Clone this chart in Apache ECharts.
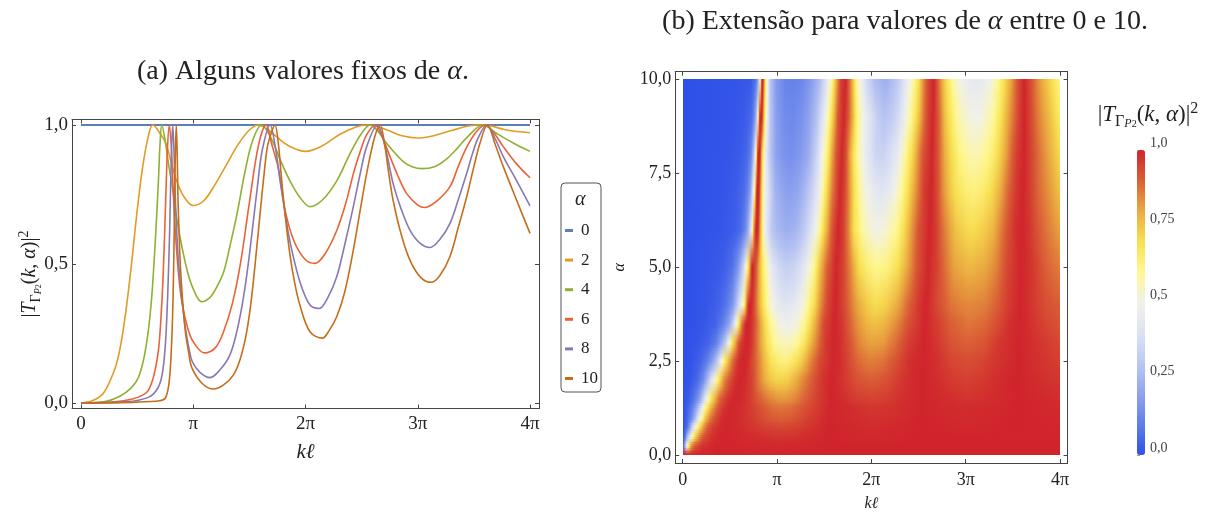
<!DOCTYPE html>
<html>
<head>
<meta charset="utf-8">
<script src="https://cdn.jsdelivr.net/npm/echarts@6/dist/echarts.min.js"></script>
<style>
  html, body { margin: 0; padding: 0; background: #fff; }
  #main { width: 1208px; height: 517px; }
</style>
</head>
<body>
<div id="main"></div>
<script>
// ---- (a) curves |T|^2 for fixed alpha, x given in units of pi ----
const alphaNames = ['0', '2', '4', '6', '8', '10'];
const lineColors = ['#5E81B5', '#E19C24', '#8FB032', '#EB6235', '#8778B3', '#C56E1A'];

const curveA0 = [[0, 1], [4, 1]];
const curveA2 = [[0,0],[0.1,0.008],[0.2,0.035],[0.3,0.12],[0.35,0.2],[0.4,0.33],[0.45,0.5],[0.5,0.69],[0.55,0.85],[0.6,0.96],[0.64,1],[0.72,0.96],[0.76,0.93],[0.8,0.87],[0.86,0.79],[0.92,0.74],[1.0,0.71],[1.1,0.73],[1.2,0.79],[1.3,0.86],[1.4,0.93],[1.5,0.982],[1.58,1],[1.67,0.982],[1.75,0.955],[1.85,0.925],[2.0,0.905],[2.15,0.925],[2.3,0.965],[2.45,0.993],[2.55,1],[2.65,0.993],[2.75,0.978],[2.85,0.962],[3.0,0.953],[3.15,0.962],[3.3,0.98],[3.45,0.996],[3.55,1],[3.65,0.996],[3.75,0.986],[3.85,0.978],[4.0,0.972]];
const curveA4 = [[0,0],[0.2,0.004],[0.35,0.025],[0.45,0.055],[0.51,0.09],[0.56,0.16],[0.6,0.26],[0.63,0.38],[0.65,0.5],[0.67,0.64],[0.69,0.8],[0.704,0.93],[0.72,1],[0.755,0.93],[0.78,0.86],[0.82,0.76],[0.85,0.67],[0.9,0.56],[0.95,0.47],[1.0,0.41],[1.075,0.364],[1.15,0.38],[1.2,0.41],[1.27,0.47],[1.33,0.57],[1.39,0.68],[1.46,0.83],[1.53,0.945],[1.61,1],[1.69,0.955],[1.78,0.87],[1.86,0.8],[1.95,0.74],[2.04,0.706],[2.15,0.73],[2.28,0.8],[2.4,0.9],[2.5,0.97],[2.575,1],[2.65,0.975],[2.72,0.935],[2.87,0.868],[2.95,0.85],[3.035,0.843],[3.15,0.85],[3.25,0.875],[3.35,0.915],[3.45,0.96],[3.58,1],[3.7,0.97],[3.85,0.935],[4.0,0.905]];
const curveA6 = [[0,0],[0.3,0.004],[0.45,0.013],[0.55,0.028],[0.6,0.045],[0.65,0.1],[0.69,0.19],[0.71,0.29],[0.73,0.44],[0.75,0.67],[0.77,0.91],[0.787,1],[0.805,0.92],[0.82,0.78],[0.84,0.62],[0.87,0.46],[0.9,0.36],[0.95,0.27],[1.0,0.22],[1.1,0.18],[1.2,0.2],[1.27,0.256],[1.35,0.36],[1.42,0.5],[1.5,0.72],[1.58,0.925],[1.648,1],[1.703,0.925],[1.76,0.84],[1.82,0.69],[1.9,0.58],[2.0,0.515],[2.085,0.502],[2.18,0.54],[2.28,0.622],[2.36,0.72],[2.43,0.83],[2.5,0.92],[2.545,0.965],[2.62,1],[2.68,0.96],[2.753,0.886],[2.82,0.82],[2.9,0.754],[3.0,0.712],[3.065,0.703],[3.18,0.73],[3.287,0.778],[3.36,0.85],[3.436,0.92],[3.52,0.975],[3.6,1],[3.68,0.97],[3.762,0.922],[3.88,0.86],[4.0,0.81]];
const curveA8 = [[0,0],[0.4,0.004],[0.6,0.02],[0.68,0.05],[0.722,0.1],[0.75,0.2],[0.766,0.32],[0.78,0.48],[0.79,0.62],[0.805,0.89],[0.817,1],[0.83,0.89],[0.84,0.74],[0.855,0.6],[0.87,0.5],[0.9,0.37],[0.93,0.27],[0.96,0.2],[0.99,0.15],[1.06,0.11],[1.149,0.091],[1.24,0.12],[1.327,0.173],[1.39,0.26],[1.446,0.376],[1.49,0.5],[1.535,0.652],[1.575,0.79],[1.615,0.91],[1.684,1],[1.735,0.91],[1.773,0.8],[1.82,0.68],[1.862,0.58],[1.95,0.436],[2.04,0.352],[2.123,0.34],[2.2,0.38],[2.278,0.454],[2.35,0.57],[2.426,0.706],[2.49,0.83],[2.545,0.922],[2.64,1],[2.71,0.92],[2.78,0.79],[2.85,0.7],[2.93,0.622],[3.02,0.575],[3.109,0.559],[3.2,0.59],[3.287,0.646],[3.36,0.73],[3.436,0.826],[3.49,0.9],[3.54,0.955],[3.614,1],[3.69,0.95],[3.762,0.886],[3.88,0.8],[4.0,0.709]];
const curveA10 = [[0,0],[0.5,0.003],[0.7,0.008],[0.751,0.017],[0.78,0.06],[0.796,0.125],[0.81,0.24],[0.82,0.376],[0.828,0.55],[0.834,0.74],[0.841,0.9],[0.849,1],[0.857,0.9],[0.864,0.736],[0.875,0.6],[0.885,0.496],[0.905,0.37],[0.93,0.256],[0.96,0.18],[0.989,0.125],[1.08,0.07],[1.179,0.05],[1.27,0.065],[1.357,0.1],[1.42,0.16],[1.476,0.256],[1.52,0.38],[1.565,0.556],[1.6,0.7],[1.624,0.796],[1.66,0.92],[1.698,0.975],[1.728,1],[1.756,0.94],[1.788,0.8],[1.82,0.67],[1.862,0.532],[1.9,0.44],[1.95,0.352],[2.04,0.256],[2.15,0.233],[2.21,0.26],[2.278,0.31],[2.35,0.4],[2.426,0.55],[2.49,0.7],[2.545,0.826],[2.615,0.955],[2.664,1],[2.705,0.93],[2.74,0.83],[2.78,0.73],[2.85,0.61],[2.93,0.514],[3.03,0.45],[3.124,0.434],[3.2,0.46],[3.287,0.527],[3.36,0.63],[3.436,0.742],[3.5,0.85],[3.554,0.934],[3.62,1],[3.69,0.93],[3.762,0.85],[3.88,0.73],[4.0,0.61]];
const curves = [curveA0, curveA2, curveA4, curveA6, curveA8, curveA10];

// ---- (b) heatmap rows: for each alpha, [k/pi, |T|^2] breakpoints ----
const heatAlphas = [0, 0.25, 0.5, 0.75, 1, 1.25, 1.5, 2, 2.5, 3, 3.5, 4, 5, 6, 7, 8, 9, 10];
const rowA0 = [[0,1],[4,1]];
const rowA025 = [[0,0],[0.015,0.15],[0.03,0.35],[0.045,0.52],[0.065,0.68],[0.09,0.82],[0.13,0.92],[0.2,0.975],[0.35,1],[1.0,0.993],[1.5,1],[4,1]];
const rowA05 = [[0,0],[0.025,0.08],[0.05,0.25],[0.075,0.42],[0.1,0.57],[0.13,0.72],[0.17,0.84],[0.22,0.92],[0.3,0.975],[0.42,1],[0.6,0.995],[0.8,0.985],[1.0,0.975],[1.2,0.98],[1.52,1],[2.0,0.994],[2.5,1],[4,0.998]];
const rowA075 = [[0,0],[0.04,0.06],[0.08,0.2],[0.11,0.38],[0.14,0.53],[0.17,0.67],[0.21,0.8],[0.26,0.9],[0.32,0.96],[0.4,0.99],[0.46,1],[0.6,0.99],[0.75,0.97],[0.9,0.95],[1.03,0.94],[1.2,0.95],[1.4,0.98],[1.54,1],[2.0,0.987],[2.51,1],[3.0,0.995],[3.52,1],[4,0.997]];
const rowA1 = [[0,0],[0.05,0.04],[0.1,0.14],[0.14,0.3],[0.17,0.46],[0.2,0.6],[0.24,0.74],[0.29,0.86],[0.35,0.94],[0.42,0.985],[0.48,1],[0.58,0.99],[0.7,0.97],[0.82,0.94],[0.95,0.91],[1.04,0.9],[1.15,0.91],[1.3,0.945],[1.45,0.98],[1.55,1],[1.75,0.99],[2.0,0.978],[2.25,0.985],[2.52,1],[3.0,0.99],[3.53,1],[4,0.995]];
const rowA125 = [[0,0],[0.05,0.03],[0.1,0.1],[0.14,0.2],[0.18,0.35],[0.215,0.5],[0.25,0.64],[0.3,0.79],[0.36,0.9],[0.43,0.97],[0.5,1],[0.6,0.99],[0.72,0.96],[0.84,0.92],[0.95,0.885],[1.04,0.875],[1.15,0.885],[1.3,0.925],[1.45,0.97],[1.56,1],[1.75,0.988],[2.0,0.972],[2.25,0.98],[2.53,1],[2.8,0.99],[3.0,0.986],[3.25,0.992],[3.54,1],[3.8,0.995],[4,0.99]];
const rowA15 = [[0,0],[0.06,0.02],[0.12,0.08],[0.17,0.18],[0.21,0.32],[0.255,0.5],[0.29,0.64],[0.34,0.79],[0.4,0.9],[0.47,0.97],[0.54,1],[0.63,0.99],[0.72,0.955],[0.8,0.91],[0.9,0.86],[1.0,0.83],[1.08,0.825],[1.18,0.845],[1.3,0.9],[1.42,0.955],[1.57,1],[1.7,0.985],[1.85,0.958],[2.0,0.948],[2.15,0.958],[2.3,0.98],[2.54,1],[2.75,0.99],[3.0,0.975],[3.25,0.985],[3.54,1],[3.75,0.995],[4,0.985]];
const rowA2 = [[0,0],[0.08,0.01],[0.15,0.05],[0.21,0.13],[0.27,0.28],[0.33,0.5],[0.38,0.68],[0.44,0.84],[0.5,0.93],[0.55,0.98],[0.6,1],[0.66,0.99],[0.73,0.95],[0.8,0.87],[0.86,0.8],[0.92,0.75],[1.0,0.72],[1.1,0.73],[1.2,0.79],[1.3,0.86],[1.4,0.93],[1.5,0.98],[1.58,1],[1.66,0.985],[1.75,0.955],[1.85,0.925],[2.0,0.905],[2.15,0.925],[2.3,0.965],[2.45,0.993],[2.55,1],[2.7,0.985],[2.85,0.962],[3.0,0.953],[3.15,0.962],[3.3,0.98],[3.45,0.996],[3.55,1],[3.7,0.99],[3.85,0.978],[4,0.972]];
const rowA25 = [[0,0],[0.1,0.01],[0.18,0.04],[0.26,0.1],[0.32,0.2],[0.37,0.33],[0.41,0.5],[0.45,0.66],[0.5,0.82],[0.55,0.93],[0.6,0.985],[0.645,1],[0.69,0.985],[0.75,0.93],[0.82,0.84],[0.88,0.75],[0.95,0.68],[1.02,0.64],[1.08,0.63],[1.15,0.65],[1.25,0.73],[1.35,0.84],[1.45,0.94],[1.59,1],[1.67,0.985],[1.76,0.94],[1.86,0.89],[1.95,0.865],[2.01,0.86],[2.12,0.875],[2.25,0.92],[2.4,0.98],[2.555,1],[2.7,0.98],[2.85,0.945],[3.0,0.932],[3.15,0.94],[3.3,0.97],[3.56,1],[3.7,0.985],[3.85,0.97],[4,0.955]];
const rowA3 = [[0,0],[0.15,0.01],[0.27,0.04],[0.35,0.1],[0.41,0.2],[0.455,0.33],[0.49,0.5],[0.525,0.67],[0.56,0.82],[0.6,0.93],[0.64,0.985],[0.68,1],[0.72,0.98],[0.77,0.91],[0.83,0.8],[0.9,0.68],[0.97,0.6],[1.04,0.555],[1.1,0.545],[1.18,0.57],[1.27,0.66],[1.36,0.78],[1.45,0.9],[1.52,0.97],[1.6,1],[1.68,0.98],[1.77,0.92],[1.87,0.85],[1.95,0.82],[2.02,0.81],[2.12,0.82],[2.25,0.88],[2.4,0.96],[2.56,1],[2.7,0.97],[2.85,0.92],[3.02,0.9],[3.2,0.92],[3.35,0.97],[3.57,1],[3.72,0.98],[3.86,0.96],[4,0.94]];
const rowA35 = [[0,0],[0.2,0.01],[0.34,0.04],[0.43,0.1],[0.49,0.2],[0.535,0.33],[0.565,0.5],[0.6,0.7],[0.63,0.87],[0.655,0.97],[0.67,1],[0.7,1],[0.74,0.96],[0.8,0.86],[0.86,0.73],[0.93,0.61],[1.0,0.53],[1.06,0.49],[1.12,0.48],[1.2,0.51],[1.27,0.58],[1.35,0.7],[1.43,0.84],[1.5,0.94],[1.605,1],[1.69,0.97],[1.77,0.9],[1.86,0.83],[1.95,0.78],[2.03,0.76],[2.13,0.78],[2.26,0.84],[2.4,0.93],[2.57,1],[2.7,0.96],[2.85,0.9],[3.03,0.87],[3.2,0.89],[3.33,0.93],[3.46,0.98],[3.575,1],[3.7,0.975],[3.85,0.945],[4,0.92]];
const rowA4 = [[0,0],[0.25,0.01],[0.38,0.04],[0.47,0.09],[0.53,0.17],[0.58,0.3],[0.63,0.5],[0.66,0.7],[0.685,0.9],[0.7,1],[0.725,1],[0.75,0.96],[0.78,0.88],[0.82,0.77],[0.87,0.65],[0.93,0.54],[1.0,0.46],[1.075,0.42],[1.15,0.43],[1.2,0.46],[1.27,0.51],[1.33,0.6],[1.39,0.7],[1.46,0.83],[1.53,0.94],[1.61,1],[1.7,0.95],[1.78,0.87],[1.86,0.8],[1.95,0.74],[2.04,0.706],[2.15,0.73],[2.28,0.8],[2.4,0.9],[2.5,0.97],[2.575,1],[2.7,0.94],[2.85,0.87],[3.035,0.843],[3.2,0.86],[3.32,0.9],[3.45,0.96],[3.58,1],[3.7,0.97],[3.85,0.93],[4,0.905]];
const rowA5 = [[0,0],[0.3,0.01],[0.44,0.03],[0.52,0.07],[0.58,0.14],[0.62,0.25],[0.65,0.37],[0.675,0.52],[0.7,0.74],[0.72,0.92],[0.73,1],[0.75,1],[0.775,0.92],[0.81,0.8],[0.85,0.66],[0.9,0.53],[0.96,0.42],[1.02,0.36],[1.09,0.33],[1.17,0.34],[1.25,0.39],[1.32,0.47],[1.39,0.6],[1.46,0.76],[1.53,0.9],[1.63,1],[1.7,0.95],[1.78,0.84],[1.86,0.72],[1.95,0.64],[2.06,0.6],[2.16,0.62],[2.28,0.7],[2.38,0.8],[2.48,0.92],[2.6,1],[2.7,0.95],[2.78,0.88],[2.88,0.81],[3.05,0.775],[3.2,0.8],[3.32,0.85],[3.44,0.94],[3.59,1],[3.7,0.97],[3.85,0.9],[4,0.86]];
const rowA6 = [[0,0],[0.4,0.01],[0.55,0.03],[0.62,0.06],[0.66,0.12],[0.69,0.22],[0.71,0.34],[0.73,0.5],[0.75,0.74],[0.765,0.93],[0.775,1],[0.795,1],[0.81,0.9],[0.835,0.68],[0.865,0.5],[0.9,0.39],[0.95,0.3],[1.0,0.26],[1.1,0.23],[1.2,0.25],[1.27,0.3],[1.35,0.39],[1.42,0.52],[1.5,0.72],[1.58,0.92],[1.648,1],[1.7,0.96],[1.76,0.84],[1.82,0.7],[1.9,0.59],[2.0,0.52],[2.085,0.502],[2.18,0.54],[2.28,0.62],[2.36,0.72],[2.43,0.83],[2.5,0.93],[2.62,1],[2.68,0.96],[2.75,0.886],[2.82,0.82],[2.9,0.754],[3.0,0.715],[3.065,0.703],[3.18,0.73],[3.29,0.78],[3.36,0.85],[3.44,0.92],[3.52,0.98],[3.6,1],[3.68,0.97],[3.76,0.922],[3.88,0.86],[4,0.81]];
const rowA7 = [[0,0],[0.45,0.01],[0.58,0.03],[0.65,0.06],[0.69,0.12],[0.72,0.23],[0.745,0.42],[0.765,0.68],[0.778,0.9],[0.788,1],[0.806,1],[0.82,0.88],[0.84,0.7],[0.865,0.52],[0.92,0.35],[0.98,0.25],[1.05,0.21],[1.13,0.19],[1.22,0.21],[1.3,0.26],[1.37,0.34],[1.44,0.46],[1.51,0.66],[1.58,0.86],[1.666,1],[1.72,0.94],[1.77,0.82],[1.83,0.68],[1.9,0.55],[1.98,0.47],[2.104,0.42],[2.2,0.46],[2.28,0.54],[2.36,0.65],[2.43,0.77],[2.5,0.88],[2.56,0.96],[2.63,1],[2.7,0.94],[2.76,0.84],[2.84,0.74],[2.92,0.68],[3.0,0.645],[3.087,0.63],[3.19,0.66],[3.29,0.72],[3.36,0.79],[3.44,0.88],[3.52,0.96],[3.607,1],[3.68,0.96],[3.76,0.9],[3.88,0.83],[4,0.76]];
const rowA8 = [[0,0],[0.5,0.01],[0.62,0.025],[0.68,0.05],[0.72,0.11],[0.755,0.3],[0.775,0.55],[0.79,0.85],[0.8,1],[0.82,1],[0.833,0.86],[0.85,0.66],[0.875,0.48],[0.93,0.3],[0.99,0.2],[1.06,0.16],[1.15,0.145],[1.24,0.17],[1.33,0.22],[1.39,0.3],[1.446,0.4],[1.49,0.52],[1.535,0.66],[1.58,0.8],[1.62,0.91],[1.684,1],[1.73,0.93],[1.773,0.8],[1.82,0.68],[1.862,0.58],[1.95,0.44],[2.04,0.355],[2.123,0.34],[2.2,0.38],[2.278,0.454],[2.35,0.57],[2.426,0.706],[2.49,0.83],[2.545,0.922],[2.64,1],[2.71,0.92],[2.78,0.79],[2.85,0.7],[2.93,0.622],[3.02,0.575],[3.109,0.559],[3.2,0.59],[3.287,0.646],[3.36,0.73],[3.436,0.826],[3.49,0.9],[3.54,0.96],[3.614,1],[3.69,0.95],[3.762,0.886],[3.88,0.8],[4,0.709]];
const rowA9 = [[0,0],[0.55,0.01],[0.66,0.025],[0.72,0.05],[0.76,0.12],[0.785,0.32],[0.8,0.58],[0.812,0.86],[0.82,1],[0.84,1],[0.852,0.86],[0.868,0.65],[0.89,0.47],[0.93,0.31],[0.99,0.19],[1.07,0.14],[1.16,0.13],[1.25,0.15],[1.34,0.2],[1.42,0.29],[1.47,0.38],[1.51,0.47],[1.555,0.61],[1.6,0.78],[1.65,0.92],[1.706,1],[1.76,0.9],[1.8,0.78],[1.85,0.63],[1.9,0.52],[1.98,0.41],[2.06,0.33],[2.136,0.29],[2.22,0.32],[2.29,0.38],[2.36,0.48],[2.43,0.62],[2.5,0.76],[2.56,0.88],[2.6,0.95],[2.652,1],[2.715,0.9],[2.78,0.76],[2.86,0.64],[2.93,0.57],[3.02,0.515],[3.116,0.497],[3.2,0.53],[3.29,0.59],[3.36,0.68],[3.44,0.79],[3.5,0.87],[3.55,0.94],[3.617,1],[3.69,0.94],[3.76,0.87],[3.88,0.77],[4,0.66]];
const rowA10 = [[0,0],[0.6,0.01],[0.72,0.02],[0.78,0.08],[0.8,0.2],[0.815,0.48],[0.827,0.82],[0.835,1],[0.855,1],[0.865,0.85],[0.88,0.62],[0.9,0.45],[0.93,0.3],[0.99,0.18],[1.08,0.12],[1.18,0.11],[1.27,0.13],[1.36,0.18],[1.45,0.27],[1.52,0.4],[1.57,0.56],[1.62,0.78],[1.68,0.96],[1.728,1],[1.79,0.8],[1.86,0.55],[1.95,0.36],[2.04,0.27],[2.15,0.23],[2.28,0.31],[2.36,0.42],[2.43,0.55],[2.5,0.7],[2.55,0.83],[2.6,0.94],[2.664,1],[2.72,0.87],[2.78,0.73],[2.85,0.6],[2.93,0.51],[3.02,0.455],[3.124,0.434],[3.21,0.47],[3.29,0.53],[3.36,0.63],[3.44,0.74],[3.5,0.84],[3.554,0.93],[3.62,1],[3.69,0.93],[3.76,0.85],[3.88,0.73],[4,0.61]];
const heatRows = [rowA0, rowA025, rowA05, rowA075, rowA1, rowA125, rowA15, rowA2, rowA25, rowA3, rowA35, rowA4, rowA5, rowA6, rowA7, rowA8, rowA9, rowA10];

// colour scale of the legend bar, evenly spaced from 0 to 1
const heatColors = ['#2F50E8', '#5F7EEA', '#8FA3EE', '#BBC7F2', '#DDE2F4', '#F1F1EA', '#FFF890', '#F8E050', '#EAAA40', '#DA6036', '#D0242C'];

const piTicks = [0, 1, 2, 3, 4];
const leftTicks = [0, 0.5, 1];
const rightTicks = [0, 2.5, 5, 7.5, 10];
const barTicks = [0, 0.25, 0.5, 0.75, 1];

const serif = 'Liberation Serif';
const frameColor = '#444';
const textColor = '#222';

function piLabel(v) {
  if (v === 0) return '0';
  if (v === 1) return 'π';
  return v + 'π';
}
function commaLabel(v) {
  var s = Math.round(v * 10) === v * 10 ? v.toFixed(1) : v.toFixed(2);
  return s.replace('.', ',');
}

// colour helpers
function hexRgb(h) {
  return [parseInt(h.substr(1, 2), 16), parseInt(h.substr(3, 2), 16), parseInt(h.substr(5, 2), 16)];
}
const heatRgb = heatColors.map(hexRgb);
function colorAt(v) {
  v = Math.max(0, Math.min(1, v));
  var n = heatRgb.length - 1;
  var t = v * n;
  var i = Math.min(Math.floor(t), n - 1);
  var f = t - i;
  var a = heatRgb[i], b = heatRgb[i + 1];
  return 'rgb(' + Math.round(a[0] + (b[0] - a[0]) * f) + ',' + Math.round(a[1] + (b[1] - a[1]) * f) + ',' + Math.round(a[2] + (b[2] - a[2]) * f) + ')';
}
function cellFill(v0, v1) {
  var stops = [{offset: 0, color: colorAt(v0)}, {offset: 1, color: colorAt(v1)}];
  var n = heatColors.length - 1;
  if (v1 !== v0) {
    var lo = Math.min(v0, v1), hi = Math.max(v0, v1);
    for (var k = 1; k < n; k++) {
      var s = k / n;
      if (s > lo && s < hi) stops.push({offset: (s - v0) / (v1 - v0), color: heatColors[k]});
    }
  }
  stops.sort(function (a, b) { return a.offset - b.offset; });
  return new echarts.graphic.LinearGradient(0, 0, 1, 0, stops);
}

// cells: [x0, x1, alphaLow, alphaHigh, v0, v1, fade]
// between two read rows the lower row is drawn solid and the upper one faded in over it
const cells = [];
for (let r = 0; r < heatRows.length - 1; r++) {
  const lo = heatAlphas[r], hi = heatAlphas[r + 1];
  [heatRows[r], heatRows[r + 1]].forEach(function (row, fade) {
    for (let j = 0; j < row.length - 1; j++) {
      cells.push([row[j][0], row[j + 1][0], lo, hi, row[j][1], row[j + 1][1], fade]);
    }
  });
}

function renderCell(params, api) {
  var p0 = api.coord([api.value(0), api.value(3)]);
  var p1 = api.coord([api.value(1), api.value(2)]);
  var x0 = Math.round(p0[0]), x1 = Math.round(p1[0]);
  var y0 = Math.round(p0[1]), y1 = Math.round(p1[1]);
  if (x1 <= x0 || y1 <= y0) return null;
  var fill = cellFill(api.value(4), api.value(5));
  if (!api.value(6)) {
    return {type: 'rect', shape: {x: x0, y: y0, width: x1 - x0, height: y1 - y0}, style: {fill: fill}};
  }
  var h = y1 - y0;
  var n = Math.max(2, Math.round(h / 2));
  var children = [];
  for (var k = 0; k < n; k++) {
    var ya = y0 + Math.round(h * k / n), yb = y0 + Math.round(h * (k + 1) / n);
    if (yb <= ya) continue;
    children.push({type: 'rect', shape: {x: x0, y: ya, width: x1 - x0, height: yb - ya}, style: {fill: fill, opacity: 1 - (k + 0.5) / n}});
  }
  return {type: 'group', children: children};
}

function frameAxis(gridIndex, position, min, max, ticks, labels, fmt, fontSize, margin) {
  return {
    type: 'value', gridIndex: gridIndex, position: position, min: min, max: max,
    axisLine: {show: true, onZero: false, lineStyle: {color: frameColor, width: 1}},
    axisTick: {show: true, inside: true, length: 4, customValues: ticks, lineStyle: {color: frameColor}},
    axisLabel: {show: labels, customValues: ticks, formatter: fmt, fontFamily: serif, fontSize: fontSize, color: textColor, margin: margin},
    splitLine: {show: false}
  };
}

const richT = function (base) {
  return {
    i: {fontFamily: serif, fontStyle: 'italic', fontSize: base, color: textColor, lineHeight: base + 6},
    g: {fontFamily: serif, fontSize: Math.round(base * 0.68), color: textColor, verticalAlign: 'bottom', lineHeight: Math.round(base * 0.8)},
    p: {fontFamily: serif, fontStyle: 'italic', fontSize: Math.round(base * 0.52), color: textColor, verticalAlign: 'bottom', lineHeight: Math.round(base * 0.45)},
    n: {fontFamily: serif, fontSize: Math.round(base * 0.42), color: textColor, verticalAlign: 'bottom', lineHeight: Math.round(base * 0.25)},
    sup: {fontFamily: serif, fontSize: Math.round(base * 0.68), color: textColor, verticalAlign: 'top', lineHeight: Math.round(base * 0.7)}
  };
};
const tLabel = '|{i|T}{g|Γ}{p|P}{n|2}({i|k}, {i|α})|{sup|2}';

var chartDom = document.getElementById('main');
var myChart = echarts.init(chartDom);

const leftX = frameAxis(0, 'bottom', -0.08, 4.08, piTicks, true, piLabel, 19, 6);
leftX.name = 'kℓ';
leftX.nameLocation = 'middle';
leftX.nameGap = 33;
leftX.nameTextStyle = {fontFamily: serif, fontStyle: 'italic', fontSize: 21, color: textColor};

const rightX = frameAxis(1, 'bottom', -0.08, 4.08, piTicks, true, piLabel, 18, 8);
rightX.name = 'kℓ';
rightX.nameLocation = 'middle';
rightX.nameGap = 33;
rightX.nameTextStyle = {fontFamily: serif, fontStyle: 'italic', fontSize: 16, color: textColor};

const rightY = frameAxis(1, 'left', -0.2, 10.2, rightTicks, true, commaLabel, 18, 4);
rightY.name = 'α';
rightY.nameLocation = 'middle';
rightY.nameRotate = 90;
rightY.nameGap = 47;
rightY.nameTextStyle = {fontFamily: serif, fontStyle: 'italic', fontSize: 16, color: textColor};

var option = {
  backgroundColor: '#fff',
  animation: false,
  title: [
    {
      text: '(a) Alguns valores fixos de {i|α}.',
      left: 303, top: 58, textAlign: 'center', padding: 0,
      textStyle: {fontFamily: serif, fontSize: 28, fontWeight: 'normal', color: textColor,
        rich: {i: {fontFamily: serif, fontStyle: 'italic', fontSize: 28, color: textColor}}}
    },
    {
      text: '(b) Extensão para valores de {i|α} entre 0 e 10.',
      left: 905, top: 8, textAlign: 'center', padding: 0,
      textStyle: {fontFamily: serif, fontSize: 28, fontWeight: 'normal', color: textColor,
        rich: {i: {fontFamily: serif, fontStyle: 'italic', fontSize: 28, color: textColor}}}
    }
  ],
  grid: [
    {left: 72, top: 119.4, width: 467, height: 289.1},
    {left: 675.2, top: 71.7, width: 392.4, height: 393.1},
    {left: 1137, top: 150, width: 8, height: 305}
  ],
  xAxis: [
    leftX,
    frameAxis(0, 'top', -0.08, 4.08, piTicks, false, piLabel, 19, 6),
    rightX,
    frameAxis(1, 'top', -0.08, 4.08, piTicks, false, piLabel, 18, 8),
    {type: 'value', gridIndex: 2, min: 0, max: 1, show: false}
  ],
  yAxis: [
    frameAxis(0, 'left', -0.02, 1.02, leftTicks, true, commaLabel, 19, 4),
    frameAxis(0, 'right', -0.02, 1.02, leftTicks, false, commaLabel, 19, 4),
    rightY,
    frameAxis(1, 'right', -0.2, 10.2, rightTicks, false, commaLabel, 18, 4),
    {
      type: 'value', gridIndex: 2, position: 'right', min: 0, max: 1,
      axisLine: {show: false},
      axisTick: {show: true, length: 3, customValues: barTicks, lineStyle: {color: '#999'}},
      axisLabel: {customValues: barTicks, formatter: commaLabel, fontFamily: serif, fontSize: 14, color: '#444', margin: 5, verticalAlign: 'bottom'},
      splitLine: {show: false}
    }
  ],
  legend: {
    orient: 'vertical', left: 565, top: 222, padding: 0,
    itemWidth: 8, itemHeight: 3, itemGap: 12.6, icon: 'rect',
    selectedMode: false,
    textStyle: {fontFamily: serif, fontSize: 17, color: textColor, lineHeight: 17, padding: [0, 0, 0, 3]},
    data: alphaNames
  },
  visualMap: {
    type: 'continuous', min: 0, max: 1, seriesIndex: 6, dimension: 4,
    calculable: false, hoverLink: false, orient: 'vertical',
    left: 1137, top: 150, itemWidth: 8, itemHeight: 305, padding: 0,
    inRange: {color: heatColors}
  },
  graphic: [
    {type: 'rect', left: 560.5, top: 182.5, shape: {width: 40, height: 209, r: 4}, style: {fill: '#fff', stroke: '#555', lineWidth: 1}, z: 0, silent: true},
    {type: 'text', left: 575, top: 190, style: {text: 'α', fontFamily: serif, fontStyle: 'italic', fontSize: 20, fill: textColor}, z: 5, silent: true},
    // y label of panel (a), rotated
    {type: 'text', x: 30, y: 274, rotation: Math.PI / 2, style: {text: tLabel, align: 'center', verticalAlign: 'middle', fontFamily: serif, fontSize: 20, lineHeight: 26, fill: textColor, rich: richT(20)}, z: 5, silent: true},
    // title of the colour bar
    {type: 'text', x: 1148, y: 115, style: {text: tLabel, align: 'center', verticalAlign: 'middle', fontFamily: serif, fontSize: 23, lineHeight: 29, fill: textColor, rich: richT(23)}, z: 5, silent: true}
  ],
  series: curves.map(function (data, i) {
    return {
      name: alphaNames[i], type: 'line', xAxisIndex: 0, yAxisIndex: 0,
      data: data, showSymbol: false, smooth: 0.35, clip: true, silent: true,
      color: lineColors[i],
      lineStyle: {width: i === 0 ? 2 : 1.6, color: lineColors[i]}
    };
  }).concat([{
    type: 'custom', xAxisIndex: 2, yAxisIndex: 2, clip: true, silent: true, progressive: 0,
    dimensions: ['x0', 'x1', 'a0', 'a1', 'v0', 'v1', 'fade'],
    encode: {x: [0, 1], y: [2, 3]},
    data: cells,
    renderItem: renderCell
  }])
};

option && myChart.setOption(option);
</script>
</body>
</html>
